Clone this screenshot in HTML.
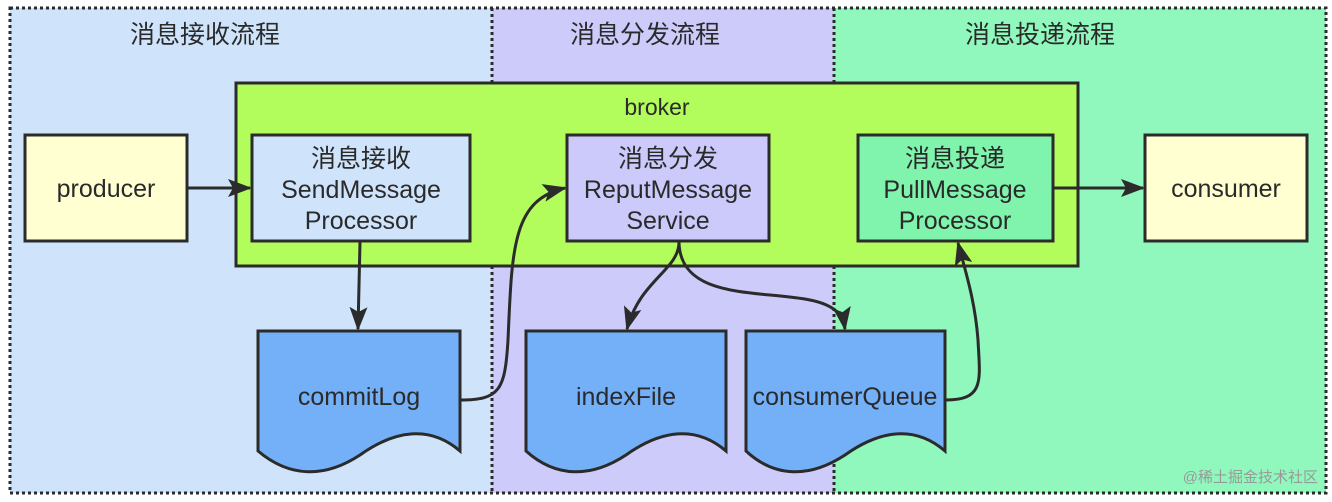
<!DOCTYPE html>
<html><head><meta charset="utf-8"><style>
html,body{margin:0;padding:0;background:#fff;}
svg{display:block;}
text{font-family:"Liberation Sans","Noto Sans CJK SC",sans-serif;fill:#2a2a2a;}
</style></head><body>
<svg width="1332" height="502" viewBox="0 0 1332 502" xmlns="http://www.w3.org/2000/svg">
<defs>
<marker id="b" markerWidth="24" markerHeight="20" refX="22" refY="10" orient="auto" markerUnits="userSpaceOnUse">
<path d="M0,1 L24,10 L0,19 L5,10 z" fill="#2b2b2b"/>
</marker>
</defs>
<rect x="10" y="8" width="482" height="485" fill="#cfe4fb"/>
<rect x="492" y="8" width="342" height="485" fill="#cccbfa"/>
<rect x="834" y="8" width="492" height="485" fill="#90f8bd"/>
<g stroke="#2b2b2b" stroke-width="3" stroke-dasharray="3,3" fill="none">
<rect x="10" y="8" width="1316" height="485"/>
<line x1="492" y1="8" x2="492" y2="493"/>
<line x1="834" y1="8" x2="834" y2="493"/>
</g>
<text x="205" y="43" font-size="25" text-anchor="middle">消息接收流程</text>
<text x="645" y="43" font-size="25" text-anchor="middle">消息分发流程</text>
<text x="1040" y="43" font-size="25" text-anchor="middle">消息投递流程</text>

<rect x="236" y="83" width="842" height="183" fill="#b2fc5c" stroke="#2b2b2b" stroke-width="3"/>
<text x="657" y="115" font-size="23" text-anchor="middle">broker</text>

<g stroke="#2b2b2b" stroke-width="3">
<rect x="25" y="135" width="162" height="106" fill="#ffffd2"/>
<rect x="252" y="135" width="218" height="106" fill="#cfe4fb"/>
<rect x="567" y="135" width="202" height="106" fill="#cbcafa"/>
<rect x="858" y="135" width="195" height="106" fill="#80f3ad"/>
<rect x="1145" y="135" width="162" height="106" fill="#ffffd2"/>
</g>
<g font-size="25" text-anchor="middle">
<text x="106" y="197">producer</text>
<text x="361" y="167">消息接收</text><text x="361" y="198">SendMessage</text><text x="361" y="229">Processor</text>
<text x="668" y="167">消息分发</text><text x="668" y="198">ReputMessage</text><text x="668" y="229">Service</text>
<text x="955" y="167">消息投递</text><text x="955" y="198">PullMessage</text><text x="955" y="229">Processor</text>
<text x="1226" y="197">consumer</text>
</g>

<g stroke="#2b2b2b" stroke-width="3" fill="#74b0f8">
<path d="M258,331 H460 V451 C430,425 395,430 360,455 C325,478 290,478 258,451 Z"/>
<path d="M526,331 H726 V451 C696,425 661,430 626,455 C591,478 556,478 526,451 Z"/>
<path d="M746,331 H945 V451 C915,425 880,430 845,455 C810,478 775,478 746,451 Z"/>
</g>
<g font-size="25" text-anchor="middle">
<text x="359" y="405">commitLog</text>
<text x="626" y="405">indexFile</text>
<text x="845" y="405">consumerQueue</text>
</g>

<g stroke="#2b2b2b" stroke-width="3" fill="none">
<line x1="188" y1="188" x2="250" y2="188" marker-end="url(#b)"/>
<line x1="1054" y1="188" x2="1143" y2="188" marker-end="url(#b)"/>
<line x1="360" y1="242" x2="358" y2="329" marker-end="url(#b)"/>
<path d="M460,400 C500,400 505,390 508,340 C512,250 512,200 565,188" marker-end="url(#b)"/>
<path d="M679,242 C679,270 640,280 627,329" marker-end="url(#b)"/>
<path d="M679,242 C680,300 760,290 810,300 C835,305 843,315 845,329" marker-end="url(#b)"/>
<path d="M946,400 C985,400 980,380 978,340 C975,300 965,270 958,243" marker-end="url(#b)"/>
</g>
<text x="1318" y="482" font-size="15" text-anchor="end" style="fill:#999">@稀土掘金技术社区</text>
</svg>
</body></html>
